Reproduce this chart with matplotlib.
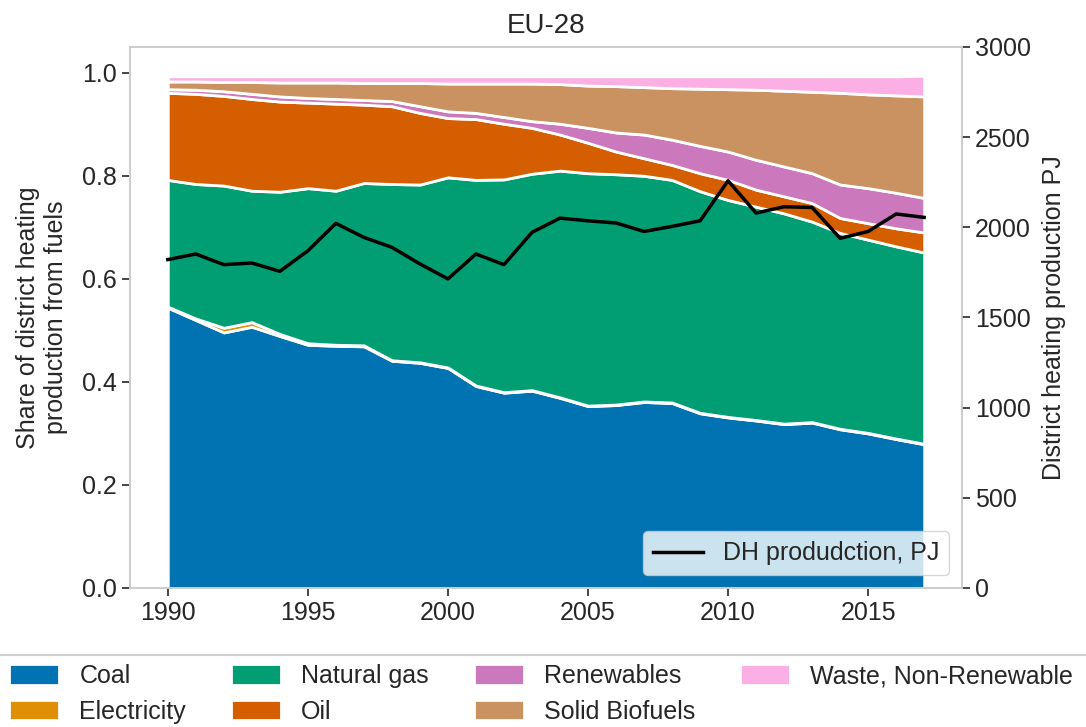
import matplotlib
matplotlib.use("Agg")
import matplotlib.pyplot as plt
from matplotlib.lines import Line2D

plt.rcParams["font.family"] = ["Liberation Sans", "DejaVu Sans"]
plt.rcParams["text.color"] = "#262626"
plt.rcParams["axes.labelcolor"] = "#262626"
plt.rcParams["xtick.color"] = "#262626"
plt.rcParams["ytick.color"] = "#262626"

# Data (shares of district heating production from fuels, EU-28)
years = list(range(1990, 2018))
coal = [0.544, 0.520, 0.496, 0.507, 0.489, 0.472, 0.470, 0.469, 0.441, 0.437,
        0.427, 0.392, 0.379, 0.383, 0.369, 0.353, 0.355, 0.361, 0.359, 0.339,
        0.331, 0.325, 0.318, 0.321, 0.308, 0.300, 0.289, 0.279]
electricity = [0.002, 0.003, 0.009, 0.009, 0.004, 0.003, 0.002, 0.002, 0.001, 0.001,
               0.001, 0.001, 0.001, 0.001, 0.001, 0.001, 0.001, 0.001, 0.001, 0.001,
               0.001, 0.001, 0.001, 0.001, 0.001, 0.001, 0.001, 0.001]
natural_gas = [0.246, 0.261, 0.276, 0.255, 0.276, 0.301, 0.299, 0.315, 0.342, 0.345,
               0.369, 0.399, 0.413, 0.420, 0.440, 0.451, 0.447, 0.438, 0.432, 0.430,
               0.421, 0.414, 0.408, 0.389, 0.380, 0.375, 0.373, 0.371]
oil = [0.169, 0.175, 0.174, 0.178, 0.175, 0.166, 0.169, 0.152, 0.151, 0.139,
       0.115, 0.118, 0.108, 0.089, 0.070, 0.059, 0.044, 0.034, 0.029, 0.035,
       0.039, 0.033, 0.033, 0.036, 0.029, 0.032, 0.035, 0.039]
renewables = [0.007, 0.008, 0.009, 0.010, 0.010, 0.009, 0.009, 0.009, 0.010, 0.013,
              0.013, 0.012, 0.013, 0.013, 0.021, 0.029, 0.037, 0.046, 0.049, 0.053,
              0.055, 0.058, 0.058, 0.058, 0.065, 0.068, 0.069, 0.067]
solid_biofuels = [0.015, 0.016, 0.018, 0.023, 0.027, 0.030, 0.032, 0.033, 0.035, 0.045,
                  0.054, 0.057, 0.065, 0.073, 0.077, 0.082, 0.090, 0.092, 0.100, 0.111,
                  0.121, 0.136, 0.147, 0.158, 0.178, 0.182, 0.189, 0.197]
waste = [0.010, 0.010, 0.011, 0.011, 0.012, 0.012, 0.012, 0.013, 0.013, 0.013,
         0.014, 0.014, 0.014, 0.014, 0.015, 0.018, 0.019, 0.021, 0.023, 0.024,
         0.025, 0.026, 0.028, 0.030, 0.032, 0.035, 0.037, 0.040]
dh_production = [1821, 1852, 1793, 1802, 1756, 1870, 2022, 1944, 1889, 1797,
                 1714, 1852, 1793, 1972, 2051, 2036, 2024, 1977, 2005, 2036,
                 2258, 2079, 2114, 2110, 1939, 1977, 2074, 2055]

labels = ["Coal", "Electricity", "Natural gas", "Oil", "Renewables",
          "Solid Biofuels", "Waste, Non-Renewable"]
colors = ["#0173b2", "#de8f05", "#029e73", "#d55e00", "#cc78bc", "#ca9161", "#fbafe4"]

fig = plt.figure(figsize=(10.86, 7.27), dpi=100)
ax = fig.add_axes([0.1197, 0.1912, 0.7661, 0.7442])

ax.stackplot(years, coal, electricity, natural_gas, oil, renewables,
             solid_biofuels, waste, labels=labels, colors=colors,
             edgecolor="white", linewidth=2.0)
ax.set_ylim(0, 1.05)
ax.set_xticks([1990, 1995, 2000, 2005, 2010, 2015])
ax.set_yticks([0.0, 0.2, 0.4, 0.6, 0.8, 1.0])
ax.set_ylabel("Share of district heating\nproduction from fuels", fontsize=18, labelpad=10)
ax.set_title("EU-28", fontsize=20, pad=10)

ax2 = ax.twinx()
ax2.plot(years, dh_production, color="black", lw=2.5, label="DH produdction, PJ")
ax2.set_ylim(0, 3000)
ax2.set_ylabel("District heating production PJ", fontsize=18, labelpad=8)
ax2.legend(loc="lower right", fontsize=18, framealpha=0.8, fancybox=True)

for a in (ax, ax2):
    a.tick_params(labelsize=18, length=6, width=1.2, color="#262626")
    for s in a.spines.values():
        s.set_color("#cccccc")
        s.set_linewidth(1.2)
ax.set_xlim(1988.65, 2018.35)

handles, lbls = ax.get_legend_handles_labels()
fig.legend(handles, lbls, loc="upper left", bbox_to_anchor=(-0.012, 0.117),
           ncol=4, frameon=False, fontsize=18, columnspacing=1.8,
           handlelength=2.0, handleheight=0.9, labelspacing=0.45)
fig.add_artist(Line2D([0, 1], [0.099, 0.099], color="#d0d0d0", lw=1.5,
                      transform=fig.transFigure))

fig.savefig("out.png", dpi=100)
